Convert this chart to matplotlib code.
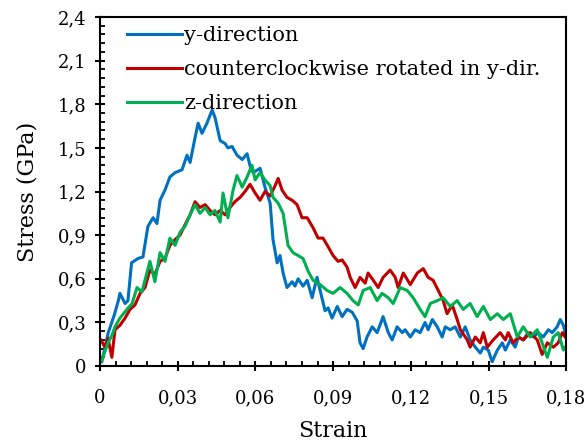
import numpy as np
import matplotlib
matplotlib.use("Agg")
import matplotlib.pyplot as plt
from matplotlib.ticker import MultipleLocator, FuncFormatter

# values
y_dir_strain = [0.0007, 0.0032, 0.0055, 0.0071, 0.0077, 0.0097, 0.0108, 0.0122, 0.0147, 0.0166,
                0.0185, 0.0205, 0.0220, 0.0232, 0.0251, 0.0270, 0.0290, 0.0317, 0.0336, 0.0348,
                0.0367, 0.0379, 0.0394, 0.0413, 0.0433, 0.0444, 0.0464, 0.0483, 0.0494, 0.0510,
                0.0529, 0.0549, 0.0568, 0.0579, 0.0591, 0.0618, 0.0637, 0.0657, 0.0668, 0.0684,
                0.0695, 0.0707, 0.0722, 0.0742, 0.0753, 0.0765, 0.0784, 0.0800, 0.0819, 0.0838,
                0.0850, 0.0869, 0.0881, 0.0896, 0.0916, 0.0935, 0.0954, 0.0974, 0.0993, 0.1004,
                0.1016, 0.1031, 0.1051, 0.1070, 0.1093, 0.1113, 0.1128, 0.1147, 0.1167, 0.1178,
                0.1198, 0.1217, 0.1236, 0.1255, 0.1267, 0.1283, 0.1302, 0.1321, 0.1333, 0.1352,
                0.1371, 0.1391, 0.1410, 0.1429, 0.1449, 0.1468, 0.1480, 0.1499, 0.1514, 0.1534,
                0.1553, 0.1565, 0.1584, 0.1603, 0.1615, 0.1634, 0.1653, 0.1673, 0.1692, 0.1711,
                0.1731, 0.1746, 0.1765, 0.1777, 0.1789, 0.1796]
y_dir_stress = [0.03, 0.23, 0.35, 0.45, 0.50, 0.43, 0.45, 0.71, 0.74, 0.75,
                0.96, 1.02, 0.98, 1.14, 1.21, 1.30, 1.33, 1.35, 1.45, 1.40,
                1.57, 1.67, 1.60, 1.67, 1.76, 1.71, 1.55, 1.53, 1.50, 1.51,
                1.45, 1.42, 1.46, 1.38, 1.33, 1.36, 1.23, 1.12, 0.87, 0.71,
                0.76, 0.64, 0.54, 0.58, 0.55, 0.60, 0.55, 0.59, 0.47, 0.61,
                0.52, 0.38, 0.40, 0.33, 0.41, 0.34, 0.39, 0.37, 0.31, 0.16,
                0.12, 0.20, 0.27, 0.23, 0.34, 0.23, 0.18, 0.27, 0.23, 0.25,
                0.20, 0.25, 0.23, 0.30, 0.25, 0.32, 0.27, 0.20, 0.27, 0.25,
                0.27, 0.20, 0.27, 0.18, 0.13, 0.09, 0.13, 0.11, 0.03, 0.11,
                0.16, 0.11, 0.18, 0.13, 0.20, 0.18, 0.23, 0.20, 0.23, 0.20,
                0.25, 0.23, 0.27, 0.32, 0.28, 0.23]

ccw_strain = [0.0004, 0.0019, 0.0031, 0.0046, 0.0058, 0.0077, 0.0097, 0.0116, 0.0135, 0.0155,
              0.0174, 0.0193, 0.0212, 0.0232, 0.0251, 0.0270, 0.0290, 0.0309, 0.0328, 0.0348,
              0.0367, 0.0386, 0.0406, 0.0425, 0.0444, 0.0464, 0.0483, 0.0502, 0.0521, 0.0541,
              0.0560, 0.0579, 0.0599, 0.0618, 0.0637, 0.0657, 0.0676, 0.0688, 0.0703, 0.0722,
              0.0742, 0.0761, 0.0780, 0.0800, 0.0823, 0.0842, 0.0861, 0.0881, 0.0900, 0.0919,
              0.0935, 0.0954, 0.0966, 0.0985, 0.1004, 0.1024, 0.1035, 0.1055, 0.1074, 0.1093,
              0.1120, 0.1140, 0.1151, 0.1171, 0.1198, 0.1225, 0.1248, 0.1267, 0.1286, 0.1306,
              0.1325, 0.1340, 0.1360, 0.1379, 0.1391, 0.1418, 0.1429, 0.1449, 0.1468, 0.1480,
              0.1495, 0.1518, 0.1545, 0.1565, 0.1576, 0.1595, 0.1615, 0.1634, 0.1661, 0.1688,
              0.1707, 0.1727, 0.1750, 0.1769, 0.1785, 0.1796]
ccw_stress = [0.18, 0.13, 0.19, 0.06, 0.25, 0.28, 0.33, 0.39, 0.42, 0.50,
              0.54, 0.66, 0.63, 0.72, 0.74, 0.83, 0.87, 0.90, 0.97, 1.04,
              1.13, 1.09, 1.11, 1.07, 1.04, 1.07, 1.04, 1.09, 1.13, 1.16,
              1.20, 1.25, 1.19, 1.14, 1.20, 1.17, 1.24, 1.29, 1.21, 1.16,
              1.14, 1.11, 1.02, 1.02, 0.95, 0.88, 0.88, 0.82, 0.76, 0.72,
              0.73, 0.68, 0.61, 0.54, 0.61, 0.57, 0.64, 0.59, 0.54, 0.61,
              0.66, 0.61, 0.54, 0.64, 0.56, 0.64, 0.67, 0.61, 0.59, 0.52,
              0.45, 0.36, 0.42, 0.32, 0.25, 0.18, 0.13, 0.20, 0.16, 0.23,
              0.13, 0.18, 0.23, 0.18, 0.23, 0.16, 0.20, 0.18, 0.23, 0.18,
              0.08, 0.16, 0.13, 0.16, 0.23, 0.20]

z_dir_strain = [0.0008, 0.0019, 0.0031, 0.0046, 0.0058, 0.0077, 0.0104, 0.0124, 0.0143, 0.0162,
                0.0181, 0.0193, 0.0212, 0.0232, 0.0251, 0.0270, 0.0290, 0.0309, 0.0328, 0.0348,
                0.0367, 0.0386, 0.0406, 0.0425, 0.0444, 0.0464, 0.0475, 0.0494, 0.0514, 0.0529,
                0.0549, 0.0568, 0.0587, 0.0599, 0.0618, 0.0637, 0.0657, 0.0668, 0.0688, 0.0707,
                0.0726, 0.0745, 0.0765, 0.0784, 0.0804, 0.0823, 0.0850, 0.0877, 0.0900, 0.0927,
                0.0954, 0.0977, 0.0997, 0.1016, 0.1043, 0.1070, 0.1089, 0.1113, 0.1132, 0.1159,
                0.1186, 0.1209, 0.1236, 0.1255, 0.1275, 0.1302, 0.1325, 0.1352, 0.1379, 0.1402,
                0.1429, 0.1456, 0.1480, 0.1507, 0.1534, 0.1557, 0.1584, 0.1611, 0.1634, 0.1661,
                0.1688, 0.1707, 0.1727, 0.1750, 0.1769, 0.1789, 0.1800]
z_dir_stress = [0.04, 0.10, 0.16, 0.21, 0.27, 0.33, 0.39, 0.43, 0.54, 0.51,
                0.64, 0.72, 0.58, 0.78, 0.72, 0.88, 0.83, 0.92, 0.96, 1.04,
                1.11, 1.05, 1.09, 1.04, 1.07, 0.99, 1.19, 1.02, 1.21, 1.31,
                1.23, 1.30, 1.38, 1.28, 1.33, 1.28, 1.24, 1.16, 1.12, 1.05,
                0.83, 0.78, 0.76, 0.74, 0.65, 0.59, 0.56, 0.52, 0.50, 0.54,
                0.50, 0.45, 0.42, 0.52, 0.54, 0.45, 0.50, 0.47, 0.43, 0.54,
                0.52, 0.47, 0.39, 0.34, 0.43, 0.45, 0.47, 0.41, 0.45, 0.39,
                0.43, 0.34, 0.41, 0.32, 0.36, 0.32, 0.36, 0.20, 0.27, 0.20,
                0.25, 0.16, 0.06, 0.20, 0.23, 0.11, 0.14]

labels = ["y-direction", "counterclockwise rotated in y-dir.", "z-direction"]
colors = ["#0070C0", "#C00000", "#00B050"]

plt.rcParams['font.family'] = ['DejaVu Serif']

fig = plt.figure(figsize=(5.88, 4.47), dpi=100)
ax = fig.add_axes([0.170, 0.181, 0.793, 0.781])

series = [(y_dir_strain, y_dir_stress), (ccw_strain, ccw_stress), (z_dir_strain, z_dir_stress)]
for (xs, ys), lab, c in zip(series, labels, colors):
    ax.plot(xs, ys, color=c, lw=2.2, label=lab)

ax.set_xlim(0, 0.18)
ax.set_ylim(0, 2.4)
ax.xaxis.set_major_locator(MultipleLocator(0.03))
ax.xaxis.set_minor_locator(MultipleLocator(0.006))
ax.yaxis.set_major_locator(MultipleLocator(0.3))
ax.yaxis.set_minor_locator(MultipleLocator(0.06))


def comma_fmt(v, pos, nd):
    if abs(v) < 1e-9:
        return "0"
    return f"{v:.{nd}f}".replace(".", ",")


ax.xaxis.set_major_formatter(FuncFormatter(lambda v, p: comma_fmt(v, p, 2)))
ax.yaxis.set_major_formatter(FuncFormatter(lambda v, p: comma_fmt(v, p, 1)))

ax.tick_params(which='major', direction='inout', length=7.5, width=1.5, labelsize=13, pad=6)
ax.tick_params(which='minor', direction='in', length=3.8, width=1.3)
ax.tick_params(axis='x', which='major', pad=13)
for s in ax.spines.values():
    s.set_linewidth(1.5)

ax.set_xlabel("Strain", fontsize=16, labelpad=9)
ax.set_ylabel("Stress (GPa)", fontsize=16, labelpad=14)

ax.legend(loc='upper left', frameon=False, fontsize=15, handlelength=2.65,
          handletextpad=0.08, labelspacing=0.72, borderaxespad=0.0,
          bbox_to_anchor=(0.04, 0.997))

fig.savefig("out.png", dpi=100)
